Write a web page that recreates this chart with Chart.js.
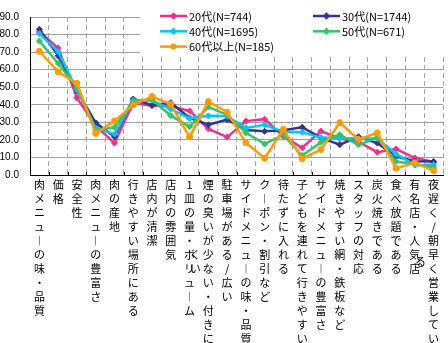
<!DOCTYPE html>
<html>
<head>
<meta charset="utf-8">
<script src="https://cdn.jsdelivr.net/npm/chart.js@4/dist/chart.umd.min.js"></script>
<style>
  html, body { margin: 0; padding: 0; background: #ffffff; }
  #wrap { width: 448px; height: 343px; }
</style>
</head>
<body>
<div id="wrap"><canvas id="c" width="448" height="343"></canvas></div>
<script>
// Reasons for choosing a yakiniku restaurant, % by age group
const categories = [
  '肉メニューの味・品質', '価格', '安全性', '肉メニューの豊富さ', '肉の産地',
  '行きやすい場所にある', '店内が清潔', '店内の雰囲気', '1皿の量・ボリューム',
  '煙の臭いが少ない・付きにくい', '駐車場がある/広い', 'サイドメニューの味・品質',
  'クーポン・割引など', '待たずに入れる', '子どもを連れて行きやすい',
  'サイドメニューの豊富さ', '焼きやすい網・鉄板など', 'スタッフの対応',
  '炭火焼きである', '食べ放題である', '有名店・人気店', '夜遅く/朝早く営業している'
];

const seriesNames = ['20代(N=744)', '30代(N=1744)', '40代(N=1695)', '50代(N=671)', '60代以上(N=185)'];

const age20s = [81.5, 72.3, 44.0, 28.0, 18.2, 41.0, 39.5, 39.2, 36.5, 26.3, 21.6, 30.7, 31.8, 22.0, 15.5, 25.0, 20.8, 18.8, 13.0, 14.8, 9.8, 7.4];
const age30s = [83.0, 67.9, 48.0, 29.7, 21.8, 43.3, 39.8, 41.2, 32.5, 28.6, 31.5, 25.6, 24.9, 25.5, 27.2, 21.1, 17.3, 21.8, 18.2, 10.5, 7.9, 7.7];
const age40s = [80.5, 70.2, 48.6, 26.8, 23.3, 42.5, 42.5, 37.5, 32.3, 33.7, 33.4, 26.8, 28.6, 24.6, 24.3, 21.3, 21.0, 20.8, 20.8, 12.0, 5.6, 5.8];
const age50s = [76.3, 63.5, 49.8, 25.4, 27.2, 42.0, 42.8, 33.8, 27.5, 38.8, 34.2, 24.0, 17.7, 22.8, 11.1, 18.6, 23.0, 17.2, 21.3, 7.7, 6.3, 4.0];
const age60plus = [70.5, 58.8, 52.2, 23.7, 30.7, 40.0, 44.7, 40.3, 21.6, 41.8, 35.8, 18.4, 9.6, 26.0, 9.3, 14.5, 29.8, 20.2, 24.0, 3.8, 7.0, 2.5];

const yTicks = [0, 10, 20, 30, 40, 50, 60, 70, 80, 90];

// ---- styling ----
const COLORS = ['#F0318C', '#333399', '#00C8FF', '#33C466', '#FF9A00'];
const MARKERS = ['rectRot', 'rectRot', 'rectRot', 'rectRot', 'circle'];
const JP_FONT = '"Noto Sans CJK JP", "Noto Sans", sans-serif';
const ROWS = 12;        // characters per vertical column of an axis label
const LINE = 14;        // vertical pitch of label characters
const LABEL_PAD = 3;
const COL_GAP = 13;     // spacing of a wrapped second column

// vertical presentation of the long vowel mark
const VERTICAL_FORMS = { 'ー': '︱' };

function columnsOf(label) {
  const chars = [...label].map(c => VERTICAL_FORMS[c] || c);
  const cols = [];
  for (let i = 0; i < chars.length; i += ROWS) cols.push(chars.slice(i, i + ROWS));
  return cols;
}

// wrapped characters of long labels go into a second column on the left
const wrappedLabels = {
  id: 'wrappedLabels',
  afterDraw(chart) {
    const xs = chart.scales.x;
    const ctx = chart.ctx;
    ctx.save();
    ctx.font = '11px ' + JP_FONT;
    ctx.fillStyle = '#000';
    ctx.textAlign = 'center';
    ctx.textBaseline = 'middle';
    const firstY = xs.top + LABEL_PAD + LINE / 2;
    categories.forEach((lab, i) => {
      const cols = columnsOf(lab);
      for (let c = 1; c < cols.length; c++) {
        const x = xs.getPixelForTick(i) - COL_GAP * c;
        const start = (ROWS - 1) / 2 - (cols[c].length - 1) / 2;
        cols[c].forEach((ch, r) => ctx.fillText(ch, x, firstY + (start + r) * LINE));
      }
    });
    // small tick marks on the category boundaries, pointing into the plot
    ctx.strokeStyle = '#000';
    ctx.lineWidth = 1;
    const step = xs.width / categories.length;
    ctx.beginPath();
    for (let i = 1; i < categories.length; i++) {
      const x = Math.round(xs.left + i * step) + 0.5;
      ctx.moveTo(x, xs.top);
      ctx.lineTo(x, xs.top - 3);
    }
    ctx.stroke();
    ctx.restore();
  }
};

function markerPath(ctx, style, x, y, r) {
  ctx.beginPath();
  if (style === 'circle') {
    ctx.arc(x, y, r, 0, Math.PI * 2);
  } else if (style === 'rect') {
    ctx.rect(x - r, y - r, 2 * r, 2 * r);
  } else {
    ctx.moveTo(x, y - r * 1.25);
    ctx.lineTo(x + r * 1.25, y);
    ctx.lineTo(x, y + r * 1.25);
    ctx.lineTo(x - r * 1.25, y);
    ctx.closePath();
  }
}

// legend in two columns on a white box over the upper grid
const legendBox = {
  id: 'legendBox',
  afterDatasetsDraw(chart) {
    const ctx = chart.ctx;
    ctx.save();
    ctx.fillStyle = '#ffffff';
    ctx.fillRect(140, 6, 305, 51);
    ctx.font = '11px ' + JP_FONT;
    ctx.textBaseline = 'middle';
    ctx.textAlign = 'left';
    chart.data.datasets.forEach((ds, i) => {
      const col = i % 2, row = Math.floor(i / 2);
      const x0 = col ? 313 : 160;
      const y = 16 + row * 15.3;
      ctx.strokeStyle = ds.borderColor;
      ctx.lineWidth = ds.borderWidth;
      ctx.beginPath();
      ctx.moveTo(x0, y);
      ctx.lineTo(x0 + 27, y);
      ctx.stroke();
      ctx.fillStyle = ds.borderColor;
      markerPath(ctx, ds.pointStyle, x0 + 13.5, y, ds.pointRadius);
      ctx.fill();
      ctx.fillStyle = '#000';
      ctx.fillText(ds.label, x0 + 29, y + 0.5);
    });
    ctx.restore();
  }
};

const seriesValues = [age20s, age30s, age40s, age50s, age60plus];

new Chart(document.getElementById('c'), {
  type: 'line',
  data: {
    labels: categories,
    datasets: seriesValues.map((vals, i) => ({
      label: seriesNames[i],
      data: vals,
      borderColor: COLORS[i],
      backgroundColor: COLORS[i],
      pointBackgroundColor: COLORS[i],
      pointBorderColor: COLORS[i],
      borderWidth: 2.5,
      pointStyle: MARKERS[i],
      pointRadius: 3,
      pointBorderWidth: 1,
      tension: 0,
      fill: false,
      order: seriesValues.length - 1 - i
    }))
  },
  options: {
    responsive: false,
    devicePixelRatio: 1,
    animation: false,
    layout: { padding: { top: 4, left: 0, right: 0, bottom: 0 } },
    plugins: { legend: { display: false }, tooltip: { enabled: false } },
    scales: {
      x: {
        type: 'category',
        offset: true,
        grid: { offset: true, color: '#A8A8A8', lineWidth: 1, drawTicks: false },
        border: { display: true, color: '#000', width: 1, dash: [5, 3] },
        ticks: {
          autoSkip: false,
          maxRotation: 0,
          minRotation: 0,
          padding: LABEL_PAD,
          color: '#000',
          font: { family: JP_FONT, size: 11, lineHeight: LINE + 'px' },
          callback: (value, index) => columnsOf(categories[index])[0]
        },
        afterFit: (s) => { s.height = 343 - 175; }
      },
      y: {
        min: yTicks[0],
        max: yTicks[yTicks.length - 1],
        afterBuildTicks: (s) => { s.ticks = yTicks.map(v => ({ value: v })); },
        grid: { color: '#A0A0A0', lineWidth: 1, drawTicks: false },
        border: { display: true, color: '#000', width: 1 },
        ticks: {
          padding: 11,
          color: '#000',
          font: { family: '"Liberation Sans", Arial, sans-serif', size: 10 },
          callback: (v) => Number(v).toFixed(1)
        },
        afterFit: (s) => { s.width = 30; }
      }
    }
  },
  plugins: [legendBox, wrappedLabels]
});
</script>
</body>
</html>
